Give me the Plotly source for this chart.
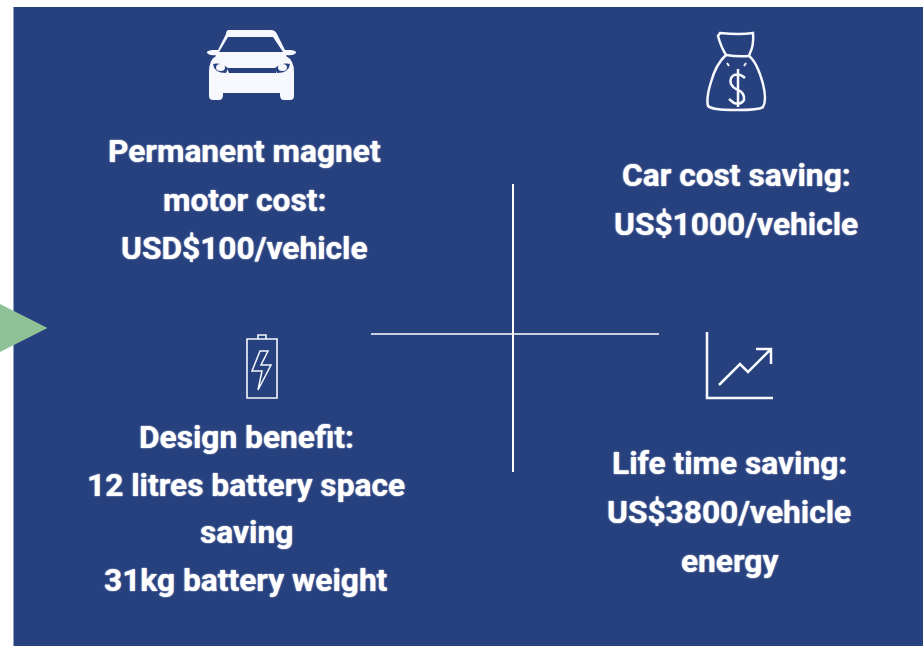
import plotly.graph_objects as go

W, H = 923, 646
BLUE = "#27417f"
GREEN = "#8fc196"
ICON = "#f6f8fe"

# text blocks: lines and their centre positions (x, y) in picture pixels
block_lines = [
    "Permanent magnet", "motor cost:", "USD$100/vehicle",
    "Car cost saving:", "US$1000/vehicle",
    "Design benefit:", "12 litres battery space", "saving", "31kg battery weight",
    "Life time saving:", "US$3800/vehicle", "energy",
]
line_x = [244, 244, 244, 736, 736, 246, 246, 246, 246, 729, 729, 729]
line_y = [151.5, 200.5, 248.5, 175.5, 224.5, 437.5, 485.5, 532.5, 580.5, 463.5, 512.5, 561.5]
FONT_SIZE = 31.7

car_body = ("M 228 30 L 271 30 Q 275 30 277 34 L 285 50 L 291 50 Q 297 51 296 53 Q 293 56 287 55 "
            "L 286 56 Q 294 60 294 72 L 294 96 Q 294 100 290 100 L 284 100 Q 280 100 280 95 "
            "L 280 93 L 223 93 L 223 95 Q 223 100 219 100 L 213 100 Q 209 100 209 96 L 209 72 "
            "Q 209 60 216 56 L 215 55 Q 210 56 207 53 Q 206 51 212 50 L 218 50 L 226 34 Q 226 31 228 30 Z")
car_glass = "M 219 52 L 228 37 L 273 37 L 283 52 Z"
car_grille = "M 227 68 L 277 68 L 276 73 L 229 73 Z"
lamp_l = "M 213 64 Q 220 62 228 68 L 226 73 Q 214 73 213 64 Z"
lamp_r = "M 290 64 Q 283 62 275 68 L 277 73 Q 289 73 290 64 Z"

bag = ("M 720 33 Q 740 35 753 33 Q 754 45 750 53 L 749 56 Q 757 62 763 84 Q 767 100 763 107 "
       "Q 760 110 735 110 Q 712 110 708 106 Q 706 98 711 82 Q 716 64 726 55 Q 721 47 718 36 Z")
bag_neck = "M 726 55 Q 738 57 749 56"
bag_marks = "M 727 63 L 729 66 M 746 63 L 744 66"
dollar = ("M 745 78 Q 740 73 734 75 Q 729 78 731 84 Q 733 88 738 90 Q 745 93 744 100 "
          "Q 741 105 734 103 L 729 99 M 738 69 L 738 107")

bat_case = "M 247 339 L 277 339 L 277 398 L 247 398 Z"
bat_cap = "M 258 339 L 258 335 L 266 335 L 266 339"
bolt = "M 260 351 L 252 371 L 262 371 L 258 390 L 271 365 L 261 365 L 268 351 Z"

chart_axes = "M 707 332 L 707 398 L 773 398"
chart_line = "M 719 385 L 740 364 L 748 372 L 771 349 M 756 349 L 771 349 L 771 364"

triangle = "M 0 304 L 47.5 328 L 0 352 Z"

fig = go.Figure()
# an invisible trace keeps the pixel axes active
fig.add_trace(go.Scatter(x=[0, W], y=[0, H], mode="markers", marker=dict(opacity=0),
                         hoverinfo="skip", showlegend=False))


def path(d, fill=None, line=None, width=0):
    fig.add_shape(type="path", path=d, xref="x", yref="y", layer="above",
                  fillcolor=fill or "rgba(0,0,0,0)",
                  line=dict(color=line or "rgba(0,0,0,0)", width=width))


fig.add_shape(type="rect", x0=13.5, x1=W, y0=7, y1=H, xref="x", yref="y", layer="below",
              fillcolor=BLUE, line_width=0)
path(triangle, fill=GREEN)

# cross
fig.add_shape(type="line", x0=513, x1=513, y0=184, y1=472, xref="x", yref="y",
              line=dict(color="#ffffff", width=2))
fig.add_shape(type="line", x0=371, x1=659, y0=334, y1=334, xref="x", yref="y",
              line=dict(color="#ffffff", width=1.5))

# car
path(car_body, fill=ICON)
path(car_glass, fill=BLUE)
path(car_grille, fill=BLUE)
path(lamp_l, fill=BLUE)
path(lamp_r, fill=BLUE)
fig.add_shape(type="circle", x0=216, x1=225, y0=64, y1=71, fillcolor=ICON, line_width=0)
fig.add_shape(type="circle", x0=278, x1=287, y0=64, y1=71, fillcolor=ICON, line_width=0)

# money bag
path(bag, line=ICON, width=2.5)
path(bag_neck, line=ICON, width=2.5)
path(bag_marks, line=ICON, width=2)
path(dollar, line=ICON, width=2.5)

# battery
path(bat_case, line=ICON, width=1.6)
path(bat_cap, line=ICON, width=1.6)
path(bolt, line=ICON, width=1.5)

# growth chart
path(chart_axes, line=ICON, width=2.5)
path(chart_line, line=ICON, width=2.5)

for txt, x, y in zip(block_lines, line_x, line_y):
    fig.add_annotation(x=x, y=y, xref="x", yref="y", text=f"<b>{txt}</b>", showarrow=False,
                       xanchor="center", yanchor="middle",
                       font=dict(family="Roboto", size=FONT_SIZE, color="#ffffff",
                                 shadow="0 0 1.5px #ffffff"))

fig.update_layout(
    width=W, height=H, margin=dict(l=0, r=0, t=0, b=0),
    paper_bgcolor="#ffffff", plot_bgcolor="#ffffff", showlegend=False,
    xaxis=dict(range=[0, W], visible=False, fixedrange=True),
    yaxis=dict(range=[H, 0], visible=False, fixedrange=True),
)
fig.write_html("out.html", config={"displayModeBar": False},
               post_script="document.body.style.margin='0';document.body.style.overflow='hidden';")
